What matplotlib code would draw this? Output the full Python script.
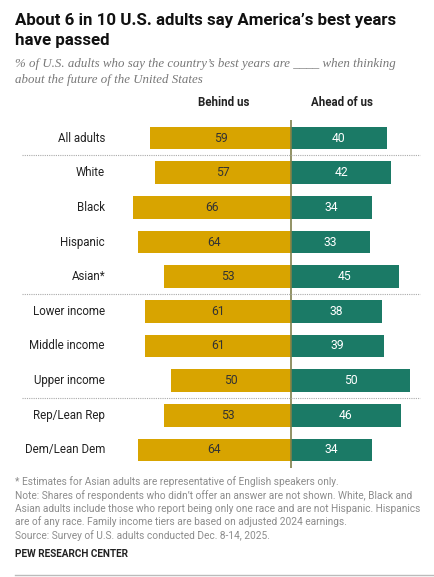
import matplotlib.pyplot as plt
import matplotlib.transforms as mtransforms

W, H = 435, 577

groups = ["All adults", "White", "Black", "Hispanic", "Asian*",
          "Lower income", "Middle income", "Upper income",
          "Rep/Lean Rep", "Dem/Lean Dem"]
behind = [59, 57, 66, 64, 53, 61, 61, 50, 53, 64]
ahead = [40, 42, 34, 33, 45, 38, 39, 50, 46, 34]
separators_after = [0, 4, 7]

GOLD = "#D8A400"
TEAL = "#1B7A66"

plt.rcParams["font.family"] = ["Roboto", "DejaVu Sans"]

fig = plt.figure(figsize=(W / 100, H / 100), dpi=100)

# axes: x scale ~2.39 px per point, centre line at x=291 px
px_per_unit = 2.39
cx = 291
ax = fig.add_axes([0, 1 - 468 / H, 1, 348 / H])
ax.set_xlim(-cx / px_per_unit, (W - cx) / px_per_unit)
ax.set_ylim(len(groups) - 0.48, -0.52)
ax.axis("off")

ypos = list(range(len(groups)))
ax.barh(ypos, [-b for b in behind], height=0.66, color=GOLD)
ax.barh(ypos, ahead, height=0.66, color=TEAL)
ax.axvline(0, color="#7F7F4A", lw=1.2)

for y, b, a in zip(ypos, behind, ahead):
    ax.text(-b / 2, y, str(b), ha="center", va="center", fontsize=8.7, color="#333333")
    ax.text(a / 2, y, str(a), ha="center", va="center", fontsize=8.7, color="white")

blend = mtransforms.blended_transform_factory(fig.transFigure, ax.transData)
for y, g in zip(ypos, groups):
    ax.text(105 / W, y, g, ha="right", va="center", fontsize=8.3, color="#222222",
            transform=blend)
for s in separators_after:
    ax.plot([22 / W, 420 / W], [s + 0.5, s + 0.5], transform=blend, ls=(0, (1, 1)),
            color="#AAAAAA", lw=0.8, clip_on=False)

# column headers
fig.text((cx - 67) / W, 1 - 103 / H, "Behind us", ha="center", va="center",
         fontsize=8.3, fontweight="bold", color="#222222")
fig.text((cx + 51) / W, 1 - 103 / H, "Ahead of us", ha="center", va="center",
         fontsize=8.3, fontweight="bold", color="#222222")

# title & subtitle
fig.text(15 / W, 1 - 20 / H, "About 6 in 10 U.S. adults say America\u2019s best years",
         ha="left", va="center", fontsize=12.2, fontweight="bold", color="#111111")
fig.text(15 / W, 1 - 41 / H, "have passed",
         ha="left", va="center", fontsize=12.2, fontweight="bold", color="#111111")
sub_font = dict(ha="left", va="center", fontsize=9.3, style="italic", color="#777777",
                family=["Liberation Serif", "DejaVu Serif"])
fig.text(15 / W, 1 - 64 / H,
         "% of U.S. adults who say the country\u2019s best years are ____ when thinking",
         **sub_font)
fig.text(15 / W, 1 - 80 / H, "about the future of the United States", **sub_font)

# notes
notes = ["* Estimates for Asian adults are representative of English speakers only.",
         "Note: Shares of respondents who didn\u2019t offer an answer are not shown. White, Black and",
         "Asian adults include those who report being only one race and are not Hispanic. Hispanics",
         "are of any race. Family income tiers are based on adjusted 2024 earnings.",
         "Source: Survey of U.S. adults conducted Dec. 8-14, 2025."]
for i, line in enumerate(notes):
    fig.text(15 / W, 1 - (482 + i * 13.3) / H, line, ha="left", va="center",
             fontsize=7.3, color="#8C8C8C")
fig.text(15 / W, 1 - 554 / H, "PEW RESEARCH CENTER", ha="left", va="center",
         fontsize=7.2, fontweight="bold", color="#222222")

fig.add_artist(plt.Line2D([15 / W, 1], [1 - 575 / H] * 2, color="#BBBBBB", lw=1))

fig.savefig("out.png", dpi=100, facecolor="white")
